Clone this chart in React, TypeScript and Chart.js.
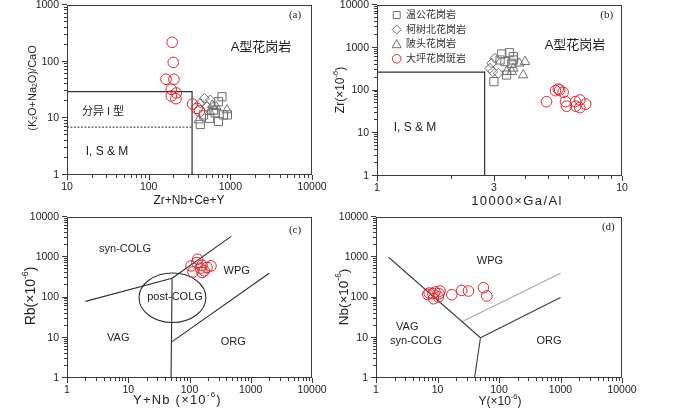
import React, { useEffect, useRef } from 'react';
import { Chart, registerables } from 'chart.js';

Chart.register(...registerables);

// ================= DATA =================
// (a) Zr+Nb+Ce+Y vs (K2O+Na2O)/CaO
const aTicksX = [10, 100, 1000, 10000];
const aTicksY = [1, 10, 100, 1000];
const aDapingX = [194, 200, 163, 204, 189, 218, 189, 216, 345, 391, 420];
const aDapingY = [220, 97, 49, 49, 32.5, 28, 24.8, 22.2, 17.9, 15, 13.5];
const aWengongX = [790, 715, 620, 558, 429, 715, 822, 920, 470, 650];
const aWengongY = [24, 19.6, 14, 10, 7.8, 8.8, 11.5, 11.5, 11.5, 12.5];
const aKeshuX = [480, 569, 429, 516];
const aKeshuY = [22.5, 21, 18.6, 16];
const aBeitouX = [410, 673, 910, 600, 560];
const aBeitouY = [9.3, 16, 14, 17, 13];
const aBoxX = [10, 340, 340];
const aBoxY = [29.5, 29.5, 1];
const aDashX = [10, 340];
const aDashY = [7, 7];

// (b) 10000*Ga/Al vs Zr
const bTicksX = [1, 3, 10];
const bTicksY = [1, 10, 100, 1000, 10000];
const bDapingX = [4.92, 5.35, 5.49, 5.57, 5.75, 5.88, 5.94, 6.46, 6.73, 6.48, 6.73, 7.11];
const bDapingY = [54.7, 99, 108, 103, 91, 55, 43, 55, 60, 43, 39.6, 48];
const bWengongX = [3.23, 3.47, 3.6, 3.0, 3.33, 3.55, 3.18, 3.38, 3.6];
const bWengongY = [714, 766, 618, 161, 472, 433, 517, 230, 517];
const bKeshuX = [3.03, 2.94, 2.97, 3.13, 2.89];
const bKeshuY = [567, 433, 275, 253, 330];
const bBeitouX = [4.02, 3.95, 3.81, 3.6, 3.38, 3.55];
const bBeitouY = [472, 230, 433, 330, 275, 275];
const bBoxX = [1, 2.75, 2.75];
const bBoxY = [270, 270, 1];

// (c) Y+Nb vs Rb
const cTicks = [1, 10, 100, 1000, 10000];
const cDapingX = [136, 132, 106, 160, 224, 114, 160, 174, 150, 193];
const cDapingY = [893, 739, 609, 634, 609, 432, 418, 458, 534, 556];
const cLineAX = [2, 52];
const cLineAY = [80, 300];
const cLineBX = [50, 52];
const cLineBY = [1, 300];
const cLineCX = [52, 480];
const cLineCY = [300, 3300];
const cLineDX = [52, 2000];
const cLineDY = [8, 400];
const cEllipseX = [15, 185];
const cEllipseY = [24, 405];

// (d) Y vs Nb
const dTicks = [1, 10, 100, 1000, 10000];
const dDapingX = [7.3, 6.9, 9.1, 11, 8.6, 10.3, 10.6, 8.4, 17.1, 24.8, 31.8, 55.9, 63.4];
const dDapingY = [129, 119, 137, 145, 93, 103, 124, 124, 117, 150, 145, 175, 109];
const dLine1X = [1.6, 50];
const dLine1Y = [1000, 10];
const dLine2X = [50, 40];
const dLine2Y = [10, 1];
const dLine3X = [50, 1000];
const dLine3Y = [10, 100];
const dLine4X = [25, 1000];
const dLine4Y = [25, 400];

const legendNames = ['温公花岗岩', '柯树北花岗岩', '陂头花岗岩', '大坪花岗斑岩'];

// ================= STYLE =================
const SANS = '"Liberation Sans", Arial, "Noto Sans CJK SC", sans-serif';
const SERIF = '"Liberation Serif", "Times New Roman", serif';
const RED = '#e2262b';
const GRAY = '#6e6e6e';
const LINE = '#2e2e2e';
const TXT = '#222';

const PAD_L = 60, PAD_T = 15, PAD_R = 45, PAD_B = 35;

type Seg = { t: string; s?: 'sup' | 'sub' };
interface Label { segs: Seg[]; x: number; y: number; size: number; family?: string; rot?: boolean; color?: string; ls?: number }
interface Spec {
  plot: { L: number; T: number; R: number; B: number };
  xr: [number, number];
  yr: [number, number];
  xLabels: number[];
  yLabels: number[];
  datasets: any[];
  labels: Label[];
  ellipse?: { xs: number[]; ys: number[] };
  legend?: { x: number; y0: number; dy: number; tx: number };
}

const pts = (xs: number[], ys: number[]) => xs.map((x, i) => ({ x, y: ys[i] }));
const marks = (xs: number[], ys: number[], style: string, color: string, r: number) => ({
  data: pts(xs, ys), pointStyle: style, pointRadius: r, pointHoverRadius: r,
  pointBorderColor: color, borderColor: color, pointBackgroundColor: 'rgba(0,0,0,0)',
  backgroundColor: 'rgba(0,0,0,0)', pointBorderWidth: 1, showLine: false,
});
const seg = (xs: number[], ys: number[], color: string, w = 1.1, dash: number[] = []) => ({
  data: pts(xs, ys), showLine: true, borderColor: color, borderWidth: w, borderDash: dash,
  pointRadius: 0, pointHoverRadius: 0, fill: false,
});
const T = (t: string, x: number, y: number, size: number, family = SANS): Label => ({ segs: [{ t }], x, y, size, family });
const unitLabel = (pre: string, x: number, y: number, size: number, rot = false, ls = 0): Label => ({
  segs: [{ t: pre + '(×10' }, { t: '-6', s: 'sup' }, { t: ')' }], x, y, size, rot, ls,
});

const specs: Spec[] = [
  {
    plot: { L: 67, T: 5, R: 312, B: 175 }, xr: [10, 10000], yr: [1, 1000],
    xLabels: aTicksX, yLabels: aTicksY,
    datasets: [
      marks(aDapingX, aDapingY, 'circle', RED, 5.3),
      marks(aWengongX, aWengongY, 'rect', GRAY, 5.8),
      marks(aKeshuX, aKeshuY, 'rectRot', GRAY, 5),
      marks(aBeitouX, aBeitouY, 'triangle', GRAY, 5.5),
      seg(aBoxX, aBoxY, LINE, 1.2),
      seg(aDashX, aDashY, LINE, 1, [2, 1.5]),
    ],
    labels: [
      T('(a)', 295, 15, 11, SERIF),
      T('A型花岗岩', 261, 47, 13),
      T('分异 I 型', 103, 112, 11),
      T('I, S & M', 107, 152, 12),
      T('Zr+Nb+Ce+Y', 189, 201, 12),
      { segs: [{ t: '(K' }, { t: '2', s: 'sub' }, { t: 'O+Na' }, { t: '2', s: 'sub' }, { t: 'O)/CaO' }], x: 32.5, y: 88, size: 11, rot: true },
    ],
  },
  {
    plot: { L: 377, T: 5, R: 622, B: 176 }, xr: [1, 10], yr: [1, 10000],
    xLabels: bTicksX, yLabels: bTicksY,
    datasets: [
      marks(bDapingX, bDapingY, 'circle', RED, 5.3),
      marks(bWengongX, bWengongY, 'rect', GRAY, 5.8),
      marks(bKeshuX, bKeshuY, 'rectRot', GRAY, 5),
      marks(bBeitouX, bBeitouY, 'triangle', GRAY, 5.5),
      seg(bBoxX, bBoxY, LINE, 1.2),
    ],
    labels: [
      T('(b)', 606.7, 15, 11, SERIF),
      T('A型花岗岩', 575, 45, 13),
      T('I, S & M', 415, 128, 12),
      { segs: [{ t: '10000×Ga/Al' }], x: 517, y: 201, size: 13, ls: 1.4 },
      unitLabel('Zr', 341, 90, 12, true),
    ],
    legend: { x: 396.7, y0: 15, dy: 14.6, tx: 406 },
  },
  {
    plot: { L: 67, T: 217, R: 312, B: 378 }, xr: [1, 10000], yr: [1, 10000],
    xLabels: cTicks, yLabels: cTicks,
    datasets: [
      marks(cDapingX, cDapingY, 'circle', RED, 5.3),
      seg(cLineAX, cLineAY, LINE),
      seg(cLineBX, cLineBY, LINE),
      seg(cLineCX, cLineCY, LINE),
      seg(cLineDX, cLineDY, LINE),
    ],
    ellipse: { xs: cEllipseX, ys: cEllipseY },
    labels: [
      T('(c)', 295, 230, 11, SERIF),
      T('syn-COLG', 125, 249, 11),
      T('WPG', 236.7, 270.7, 11),
      T('post-COLG', 175, 297.3, 11),
      T('VAG', 118.3, 338.3, 11),
      T('ORG', 233.3, 342.3, 11),
      { segs: [{ t: 'Y+Nb (×10' }, { t: '-6', s: 'sup' }, { t: ')' }], x: 177.5, y: 400, size: 13, ls: 1.2 },
      unitLabel('Rb', 31, 296, 14, true),
    ],
  },
  {
    plot: { L: 376, T: 217, R: 622, B: 378 }, xr: [1, 10000], yr: [1, 10000],
    xLabels: dTicks, yLabels: dTicks,
    datasets: [
      marks(dDapingX, dDapingY, 'circle', RED, 5.3),
      seg(dLine1X, dLine1Y, '#3c3c3c'),
      seg(dLine2X, dLine2Y, '#3c3c3c'),
      seg(dLine3X, dLine3Y, '#3c3c3c'),
      seg(dLine4X, dLine4Y, '#a8a8a8'),
    ],
    labels: [
      T('(d)', 608.3, 227.3, 11, SERIF),
      T('WPG', 490, 261.3, 11),
      T('VAG', 407.3, 326.7, 11),
      T('syn-COLG', 416, 341.3, 11),
      T('ORG', 549, 340.7, 11),
      unitLabel('Y', 500, 402, 12),
      unitLabel('Nb', 344, 297, 13.5, true),
    ],
  },
];

// ================= DRAW HELPERS =================
function drawRich(ctx: CanvasRenderingContext2D, lab: Label, ox: number, oy: number) {
  const fam = lab.family || SANS;
  const small = lab.size * 0.62;
  ctx.save();
  ctx.translate(lab.x - ox, lab.y - oy);
  if (lab.rot) ctx.rotate(-Math.PI / 2);
  ctx.fillStyle = lab.color || TXT;
  ctx.textBaseline = 'middle';
  ctx.textAlign = 'left';
  const anyCtx = ctx as any;
  const ls = lab.ls || 0;
  if ('letterSpacing' in anyCtx) anyCtx.letterSpacing = ls + 'px';
  let total = 0;
  const widths = lab.segs.map((sg) => {
    ctx.font = `${sg.s ? small : lab.size}px ${fam}`;
    const w = ctx.measureText(sg.t).width;
    total += w;
    return w;
  });
  let x = -total / 2;
  lab.segs.forEach((sg, i) => {
    ctx.font = `${sg.s ? small : lab.size}px ${fam}`;
    const dy = sg.s === 'sup' ? -lab.size * 0.38 : sg.s === 'sub' ? lab.size * 0.28 : 0;
    ctx.fillText(sg.t, x, dy);
    x += widths[i];
  });
  if ('letterSpacing' in anyCtx) anyCtx.letterSpacing = '0px';
  ctx.restore();
}

function tickInfo(v: number) {
  const e = Math.floor(Math.log10(v) + 1e-9);
  const s = v / Math.pow(10, e);
  return { ok: Math.abs(s - Math.round(s)) < 1e-6, major: Math.abs(s - 1) < 1e-6 };
}

function makeDecor(spec: Spec, ox: number, oy: number) {
  return {
    id: 'decor',
    beforeDatasetsDraw(chart: any) {
      if (!spec.ellipse) return;
      const ctx = chart.ctx as CanvasRenderingContext2D;
      const xs = chart.scales.x, ys = chart.scales.y;
      const x0 = xs.getPixelForValue(spec.ellipse.xs[0]);
      const x1 = xs.getPixelForValue(spec.ellipse.xs[1]);
      const y0 = ys.getPixelForValue(spec.ellipse.ys[0]);
      const y1 = ys.getPixelForValue(spec.ellipse.ys[1]);
      ctx.save();
      ctx.strokeStyle = LINE;
      ctx.lineWidth = 1.1;
      ctx.beginPath();
      ctx.ellipse((x0 + x1) / 2, (y0 + y1) / 2, Math.abs(x1 - x0) / 2, Math.abs(y1 - y0) / 2, 0, 0, Math.PI * 2);
      ctx.stroke();
      ctx.restore();
    },
    afterDraw(chart: any) {
      const ctx = chart.ctx as CanvasRenderingContext2D;
      const a = chart.chartArea;
      const xs = chart.scales.x, ys = chart.scales.y;
      ctx.save();
      ctx.strokeStyle = '#3a3a3a';
      ctx.lineWidth = 1;
      ctx.strokeRect(a.left + 0.5, a.top + 0.5, a.right - a.left - 1, a.bottom - a.top - 1);
      ctx.beginPath();
      for (const t of xs.ticks) {
        const info = tickInfo(t.value);
        if (!info.ok) continue;
        const big = info.major || spec.xLabels.some((l) => Math.abs(l - t.value) < 1e-6 * l);
        const px = Math.round(xs.getPixelForValue(t.value)) + 0.5;
        ctx.moveTo(px, a.bottom);
        ctx.lineTo(px, a.bottom + (big ? 5 : 3));
      }
      for (const t of ys.ticks) {
        const info = tickInfo(t.value);
        if (!info.ok) continue;
        const big = info.major;
        const py = Math.round(ys.getPixelForValue(t.value)) - 0.5;
        ctx.moveTo(a.left, py);
        ctx.lineTo(a.left - (big ? 5 : 3), py);
      }
      ctx.stroke();
      ctx.restore();

      if (spec.legend) {
        const lg = spec.legend;
        const styles = ['rect', 'rectRot', 'triangle', 'circle'];
        styles.forEach((st, i) => {
          const cx = lg.x - ox, cy = lg.y0 + i * lg.dy - oy;
          ctx.save();
          ctx.lineWidth = 1;
          ctx.strokeStyle = st === 'circle' ? RED : GRAY;
          ctx.beginPath();
          if (st === 'rect') ctx.rect(cx - 3.5, cy - 3.5, 7, 7);
          else if (st === 'rectRot') { ctx.moveTo(cx, cy - 4.5); ctx.lineTo(cx + 4.5, cy); ctx.lineTo(cx, cy + 4.5); ctx.lineTo(cx - 4.5, cy); ctx.closePath(); }
          else if (st === 'triangle') { ctx.moveTo(cx, cy - 4.5); ctx.lineTo(cx + 4.5, cy + 3.5); ctx.lineTo(cx - 4.5, cy + 3.5); ctx.closePath(); }
          else ctx.arc(cx, cy, 4.3, 0, Math.PI * 2);
          ctx.stroke();
          ctx.fillStyle = '#333';
          ctx.font = `10px ${SANS}`;
          ctx.textBaseline = 'middle';
          ctx.textAlign = 'left';
          ctx.fillText(legendNames[i], lg.tx - ox, cy + 0.5);
          ctx.restore();
        });
      }
      spec.labels.forEach((lab) => drawRich(ctx, lab, ox, oy));
    },
  };
}

function axis(range: [number, number], labels: number[], isX: boolean) {
  return {
    type: 'logarithmic',
    position: isX ? 'bottom' : 'left',
    min: range[0],
    max: range[1],
    grid: { display: false, drawTicks: false, tickLength: 0 },
    border: { display: false },
    ticks: {
      autoSkip: false,
      maxRotation: 0,
      minRotation: 0,
      padding: isX ? 6 : 8,
      color: TXT,
      font: { family: SANS, size: 10.5 },
      callback: (v: number) => (labels.some((l) => Math.abs(l - v) < 1e-6 * l) ? String(Math.round(v)) : ''),
    },
    afterFit: (s: any) => {
      if (isX) s.height = PAD_B;
      else s.width = PAD_L;
    },
  };
}

function Panel({ spec }: { spec: Spec }) {
  const ref = useRef<HTMLCanvasElement>(null);
  const left = spec.plot.L - PAD_L;
  const top = spec.plot.T - PAD_T;
  const w = spec.plot.R - spec.plot.L + PAD_L + PAD_R;
  const h = spec.plot.B - spec.plot.T + PAD_T + PAD_B;
  useEffect(() => {
    const cfg: any = {
      type: 'scatter',
      data: { datasets: spec.datasets },
      options: {
        responsive: false,
        animation: false,
        events: [],
        layout: { padding: { left: 0, top: PAD_T, right: PAD_R, bottom: 0 } },
        plugins: { legend: { display: false }, tooltip: { enabled: false } },
        scales: { x: axis(spec.xr, spec.xLabels, true), y: axis(spec.yr, spec.yLabels, false) },
      },
      plugins: [makeDecor(spec, left, top)],
    };
    const chart = new Chart(ref.current as HTMLCanvasElement, cfg);
    return () => chart.destroy();
  }, []);
  return (
    <canvas
      ref={ref}
      width={w}
      height={h}
      style={{ position: 'absolute', left, top, width: w, height: h }}
    />
  );
}

export default function App() {
  return (
    <div style={{ position: 'absolute', left: 0, top: 0, width: 700, height: 408, background: '#fff', overflow: 'hidden' }}>
      {specs.map((s, i) => (
        <Panel key={i} spec={s} />
      ))}
    </div>
  );
}
